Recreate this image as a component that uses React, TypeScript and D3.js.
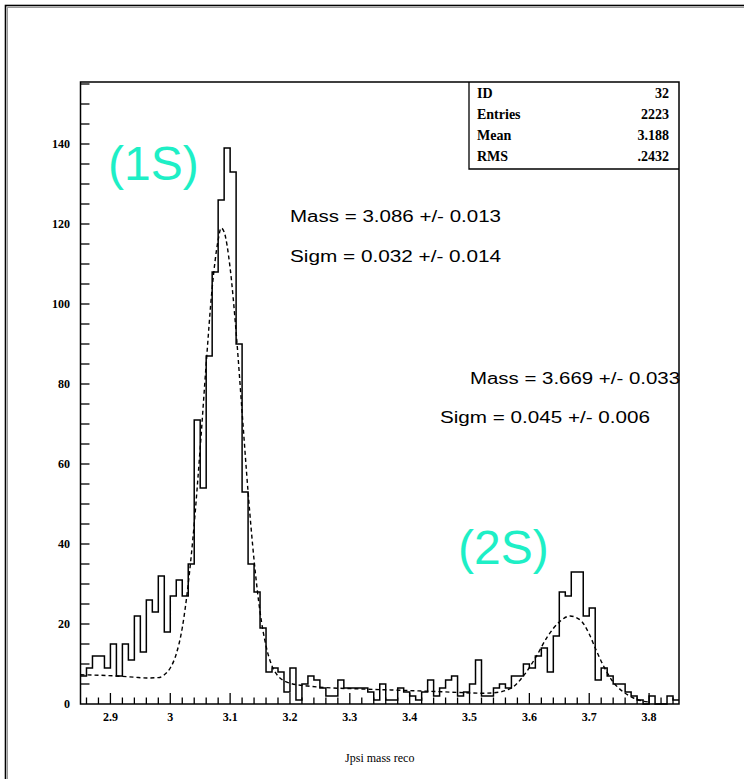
import { useEffect, useRef } from "react";
import * as d3 from "d3";

// histogram: 100 bins of 0.01 from 2.85 to 3.85
const binLow = 2.85;
const binWidth = 0.01;
const counts = [
  7, 9, 12, 12, 9, 15, 7, 15, 11, 22,
  13, 26, 23, 32, 18, 27, 31, 27, 35, 71,
  54, 87, 108, 126, 139, 133, 90, 53, 35, 28,
  19, 8, 9, 8, 3, 9, 1, 5, 7, 6,
  4, 2, 2, 6, 4, 4, 4, 4, 3, 1,
  5, 1, 1, 4, 3, 2, 1, 3, 6, 2,
  4, 6, 7, 2, 3, 5, 11, 2, 2, 4,
  5, 4, 7, 7, 10, 9, 12, 14, 8, 17,
  28, 27, 33, 33, 22, 24, 6, 9, 7, 5,
  5, 3, 2, 1, 0, 2, 0, 0, 2, 1,
];

// dashed fit curve
const fitX = [
  2.85, 2.88, 2.91, 2.94, 2.96, 2.98, 2.99, 3.0, 3.01, 3.02, 3.03, 3.04, 3.05,
  3.06, 3.07, 3.08, 3.085, 3.09, 3.1, 3.11, 3.12, 3.13, 3.14, 3.15, 3.16, 3.17,
  3.18, 3.19, 3.2, 3.23, 3.26, 3.31, 3.37, 3.43, 3.48, 3.52, 3.54, 3.57, 3.59,
  3.61, 3.63, 3.65, 3.668, 3.685, 3.7, 3.71, 3.724, 3.74, 3.757, 3.774, 3.79, 3.8,
];
const fitY = [
  7.3, 7.2, 7.0, 6.7, 6.5, 6.6, 7.3, 9, 12.5, 19, 30, 45, 64,
  85, 104, 116, 119, 118, 109, 93, 73, 53, 36, 23, 14.5, 9.5,
  7, 5.8, 5.2, 4.5, 4.1, 3.8, 3.5, 3.2, 2.9, 2.7, 2.8, 4, 7,
  11.5, 16.8, 20.5, 22, 21, 17.5, 14, 9.5, 5.5, 3, 1.5, 0.7, 0.5,
];

const xTicks = [2.9, 3, 3.1, 3.2, 3.3, 3.4, 3.5, 3.6, 3.7, 3.8];
const yTicks = [0, 20, 40, 60, 80, 100, 120, 140];
const statsLabels = ["ID", "Entries", "Mean", "RMS"];
const statsValues = ["32", "2223", "3.188", ".2432"];
const fitTexts = [
  "Mass = 3.086 +/- 0.013",
  "Sigm = 0.032 +/- 0.014",
  "Mass = 3.669 +/- 0.033",
  "Sigm = 0.045 +/- 0.006",
];
const peakLabels = ["(1S)", "(2S)"];
const xTitle = "Jpsi mass reco";

export default function App() {
  const svgRef = useRef<SVGSVGElement | null>(null);

  useEffect(() => {
    if (!svgRef.current) return;
    const svg = d3.select(svgRef.current);
    svg.selectAll("*").remove();

    const left = 80.5, right = 679, top = 82, bottom = 704;
    const x = d3.scaleLinear().domain([2.85, 3.85]).range([left, right]);
    const y = d3.scaleLinear().domain([0, 155.5]).range([bottom, top]);
    const serif = "'Liberation Serif', 'DejaVu Serif', serif";
    const sans = "'Liberation Sans', Arial, sans-serif";
    const cyan = "#1eefc6";

    // outer frame (double line look)
    svg.append("rect").attr("x", 7.5).attr("y", 7.5).attr("width", 800).attr("height", 800)
      .attr("fill", "none").attr("stroke", "#999").attr("stroke-width", 1);
    svg.append("rect").attr("x", 5.5).attr("y", 5.5).attr("width", 800).attr("height", 800)
      .attr("fill", "none").attr("stroke", "#000").attr("stroke-width", 1.6);

    // peak labels
    svg.append("text").attr("x", 108).attr("y", 180).text(peakLabels[0])
      .attr("font-family", sans).attr("font-size", 48).attr("fill", cyan);
    svg.append("text").attr("x", 458).attr("y", 564).text(peakLabels[1])
      .attr("font-family", sans).attr("font-size", 48).attr("fill", cyan);

    // histogram outline
    const pts: [number, number][] = counts.map((c, i) => [binLow + i * binWidth, c]);
    pts.push([binLow + counts.length * binWidth, counts[counts.length - 1]]);
    svg.append("path")
      .datum(pts)
      .attr("fill", "none")
      .attr("stroke", "#000")
      .attr("stroke-width", 1.5)
      .attr("d", d3.line<[number, number]>()
        .x(d => x(d[0]))
        .y(d => y(d[1]))
        .curve(d3.curveStepAfter));

    // dashed fit
    svg.append("path")
      .datum(fitX.map((v, i) => [v, fitY[i]] as [number, number]))
      .attr("fill", "none")
      .attr("stroke", "#000")
      .attr("stroke-width", 1.4)
      .attr("stroke-dasharray", "4,3")
      .attr("d", d3.line<[number, number]>()
        .x(d => x(d[0]))
        .y(d => y(d[1]))
        .curve(d3.curveMonotoneX));

    // fit parameter texts
    const fitPos = [[290, 222, 211], [290, 262, 211], [470, 384, 210], [440, 423, 210]];
    fitTexts.forEach((t, i) => {
      svg.append("text")
        .attr("x", fitPos[i][0]).attr("y", fitPos[i][1])
        .attr("textLength", fitPos[i][2]).attr("lengthAdjust", "spacingAndGlyphs")
        .attr("font-family", sans).attr("font-size", 16).attr("fill", "#000")
        .text(t);
    });

    // plot frame
    svg.append("rect").attr("x", left).attr("y", top).attr("width", right - left).attr("height", bottom - top)
      .attr("fill", "none").attr("stroke", "#000").attr("stroke-width", 1.5);

    // ticks
    const g = svg.append("g").attr("stroke", "#000").attr("stroke-width", 1.3);
    x.ticks(50).forEach(v => {
      const major = xTicks.some(m => Math.abs(m - v) < 1e-6);
      g.append("line").attr("x1", x(v)).attr("x2", x(v))
        .attr("y1", bottom).attr("y2", bottom - (major ? 11 : 6.5));
    });
    y.ticks(30).forEach(v => {
      if (v === 0) return;
      g.append("line").attr("x1", left).attr("x2", left + 9)
        .attr("y1", y(v)).attr("y2", y(v));
    });

    // tick labels
    svg.append("g").selectAll("text").data(xTicks).join("text")
      .attr("x", d => x(d)).attr("y", 721).attr("text-anchor", "middle")
      .attr("font-family", serif).attr("font-size", 12).attr("font-weight", "bold")
      .text(d => d3.format("")(d));
    svg.append("g").selectAll("text").data(yTicks).join("text")
      .attr("x", 70).attr("y", d => y(d) + 4).attr("text-anchor", "end")
      .attr("font-family", serif).attr("font-size", 12).attr("font-weight", "bold")
      .text(d => String(d));

    // axis title
    svg.append("text").attr("x", (left + right) / 2).attr("y", 762).attr("text-anchor", "middle")
      .attr("font-family", serif).attr("font-size", 12)
      .text(xTitle);

    // stats box
    const boxL = 469, boxB = 169;
    svg.append("path").attr("d", `M${boxL},${top}V${boxB}H${right}`)
      .attr("fill", "none").attr("stroke", "#000").attr("stroke-width", 1.3);
    statsLabels.forEach((s, i) => {
      const yy = 98 + i * 21;
      svg.append("text").attr("x", 477).attr("y", yy)
        .attr("font-family", serif).attr("font-size", 14).attr("font-weight", "bold").text(s);
      svg.append("text").attr("x", 669).attr("y", yy).attr("text-anchor", "end")
        .attr("font-family", serif).attr("font-size", 14).attr("font-weight", "bold").text(statsValues[i]);
    });
  }, []);

  return (
    <svg
      ref={svgRef}
      width={744}
      height={779}
      style={{ position: "absolute", left: 0, top: 0, background: "#fff" }}
    />
  );
}
